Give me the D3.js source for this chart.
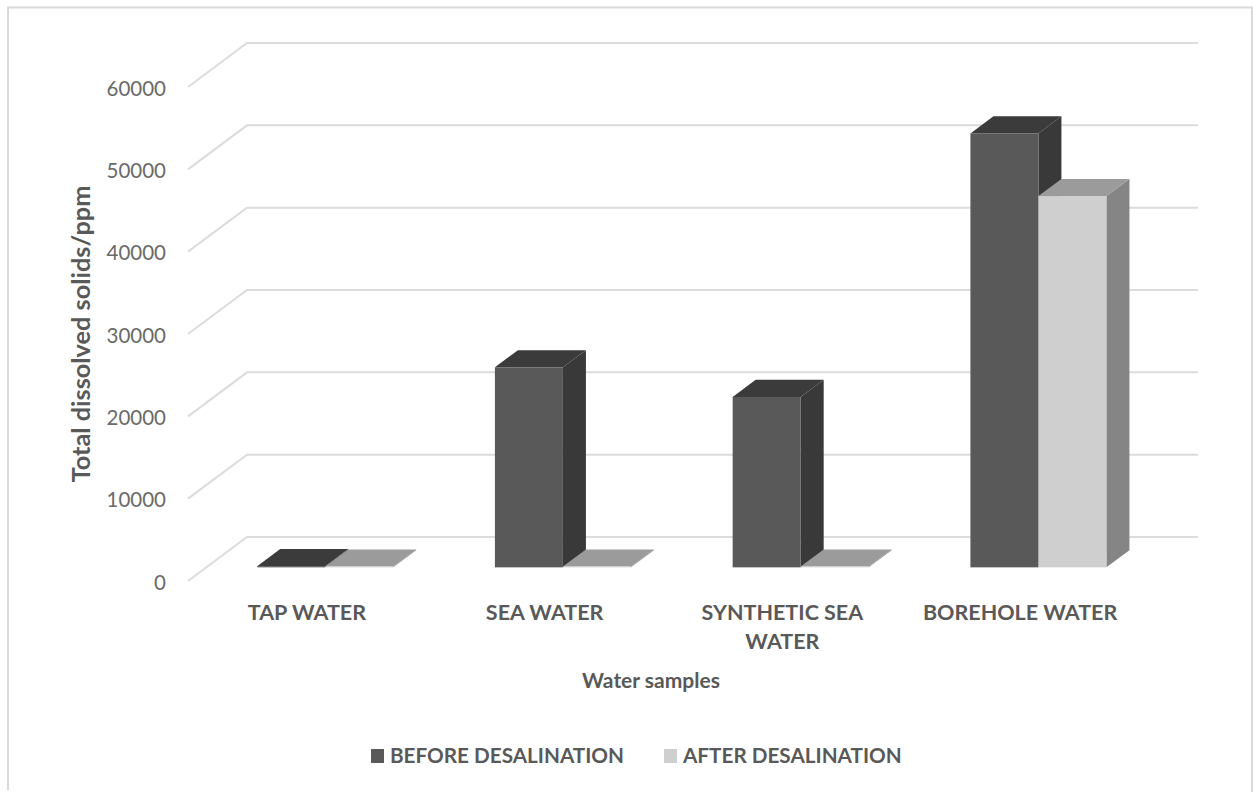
<!DOCTYPE html>
<html>
<head>
<meta charset="utf-8">
<script src="https://cdnjs.cloudflare.com/ajax/libs/d3/7.8.5/d3.min.js"></script>
<style>
  html, body { margin: 0; padding: 0; background: #fff; overflow: hidden; }
  svg { display: block; }
  text { font-family: Lato, "Open Sans", sans-serif; fill: #595959; }
</style>
</head>
<body>
<script>
// Total dissolved solids per water sample, before and after desalination.
const categories = ["TAP WATER", "SEA WATER", "SYNTHETIC SEA WATER", "BOREHOLE WATER"];
const beforeDesalination = [150, 24300, 20700, 52700];
const afterDesalination = [100, 100, 100, 45100];
const yTicks = [0, 10000, 20000, 30000, 40000, 50000, 60000];
const seriesNames = ["BEFORE DESALINATION", "AFTER DESALINATION"];

const W = 1253, H = 792;

// Floor of the 3D box: the front edge runs along y(0), the back wall is shifted up and right.
const wallDx = 59, wallDy = 44;
const x0 = d3.scaleBand().domain(categories).range([188, 1139]);
const x1 = d3.scaleBand().domain(seriesNames).range([0, 136]);
const y = d3.scaleLinear().domain([0, 60000]).range([581, 87]);

// Depth of a bar inside the box, as fractions of the wall offset.
const barFront = 0.31, barBack = 0.70;
const px = (x, d) => x + wallDx * d;
const py = (yy, d) => yy - wallDy * d;

const faces = [
  { front: "#595959", top: "#3b3b3b", side: "#393939" },
  { front: "#d0cfd0", top: "#9b9b9b", side: "#858585" }
];

const svg = d3.select("body").append("svg").attr("width", W).attr("height", H);

// Chart frame: left, top and right edges
svg.append("path")
  .attr("d", "M8,790V7.5H1252V792")
  .attr("fill", "none").attr("stroke", "#d9d9d9").attr("stroke-width", 2);

// Gridlines: a diagonal on the side wall, then across the back wall
const line = d3.line();
svg.append("g").selectAll("path").data(yTicks).join("path")
  .attr("d", t => line([
    [px(188, 0), py(y(t), 0)],
    [px(188, 1), py(y(t), 1)],
    [px(1139, 1), py(y(t), 1)]
  ]))
  .attr("fill", "none").attr("stroke", "#dcdcdc").attr("stroke-width", 2);

// Bars as three faces each
const bars = [];
categories.forEach((c, i) => {
  bars.push({ c, s: 0, v: beforeDesalination[i] });
  bars.push({ c, s: 1, v: afterDesalination[i] });
});
const barWidth = x1.bandwidth();
const barX = b => x0(b.c) + (x0.bandwidth() - 136) / 2 + x1(seriesNames[b.s]);

const barG = svg.append("g").selectAll("g").data(bars).join("g");
barG.append("path")
  .attr("fill", b => faces[b.s].side)
  .attr("d", b => {
    const r = barX(b) + barWidth, t = y(b.v), z = y(0);
    return line([[px(r, barFront), py(z, barFront)], [px(r, barBack), py(z, barBack)],
                 [px(r, barBack), py(t, barBack)], [px(r, barFront), py(t, barFront)]]) + "Z";
  });
barG.append("path")
  .attr("fill", b => faces[b.s].top)
  .attr("d", b => {
    const l = barX(b), r = l + barWidth, t = y(b.v);
    return line([[px(l, barFront), py(t, barFront)], [px(l, barBack), py(t, barBack)],
                 [px(r, barBack), py(t, barBack)], [px(r, barFront), py(t, barFront)]]) + "Z";
  });
barG.append("rect")
  .attr("fill", b => faces[b.s].front)
  .attr("x", b => px(barX(b), barFront))
  .attr("y", b => py(y(b.v), barFront))
  .attr("width", barWidth)
  .attr("height", b => y(0) - y(b.v));

// Value axis labels
const yAxis = svg.append("g")
  .attr("transform", "translate(166,1.5)")
  .call(d3.axisLeft(y).tickValues(yTicks).tickSize(0).tickPadding(0).tickFormat(d3.format("d")));
yAxis.select(".domain").remove();
yAxis.selectAll("text").style("font-size", "20.5px").style("fill", "#6a6a6a");

// Category labels, wrapped onto two lines where the band is too narrow
const xAxis = svg.append("g")
  .attr("transform", "translate(0,619.5)")
  .call(d3.axisBottom(x0).tickSize(0).tickPadding(0).tickFormat(""));
xAxis.select(".domain").remove();
const wrapped = { "SYNTHETIC SEA WATER": ["SYNTHETIC SEA", "WATER"] };
xAxis.selectAll(".tick").each(function (c) {
  const lines = wrapped[c] || [c];
  d3.select(this).selectAll("text.cat").data(lines).join("text")
    .attr("class", "cat")
    .attr("text-anchor", "middle")
    .attr("y", (d, i) => i * 29.5)
    .style("font-size", "21.5px").style("font-weight", 700)
    .text(d => d);
});

// Axis titles
svg.append("text")
  .attr("transform", "translate(90,334) rotate(-90)")
  .attr("text-anchor", "middle")
  .style("font-size", "25.3px").style("font-weight", 700)
  .text("Total dissolved solids/ppm");
svg.append("text")
  .attr("x", 651).attr("y", 687.5)
  .attr("text-anchor", "middle")
  .style("font-size", "21px").style("font-weight", 700)
  .text("Water samples");

// Legend
const legendX = [371, 664];
const legend = svg.append("g").selectAll("g").data(seriesNames).join("g")
  .attr("transform", (d, i) => `translate(${legendX[i]},749)`);
legend.append("rect").attr("width", 13).attr("height", 14)
  .attr("fill", (d, i) => faces[i].front);
legend.append("text").attr("x", 19).attr("y", 13.5)
  .style("font-size", "20.7px").style("font-weight", 700)
  .text(d => d);
</script>
</body>
</html>
